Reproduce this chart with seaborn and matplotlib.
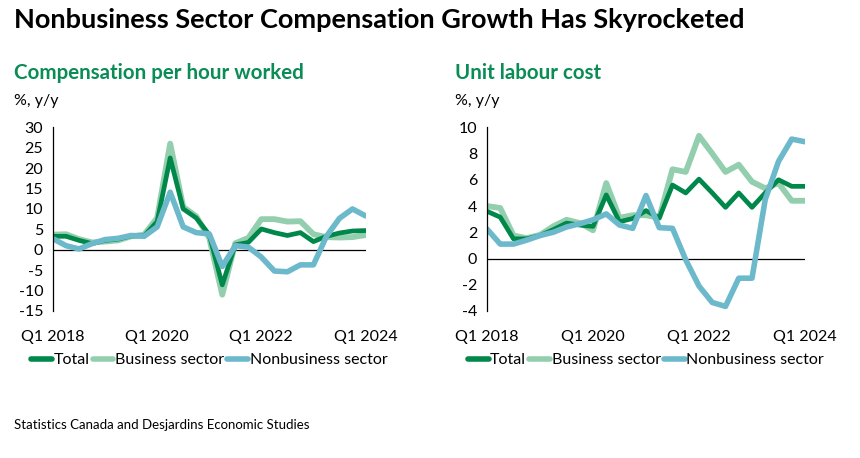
import numpy as np
import pandas as pd
import matplotlib
matplotlib.use("Agg")
import matplotlib.pyplot as plt
from matplotlib.lines import Line2D
import seaborn as sns

# Quarterly data, Q1 2018 .. Q1 2024 (y/y % change)
quarters = pd.period_range("2018Q1", "2024Q1", freq="Q")
tick_labels = ["Q1 2018", "Q1 2020", "Q1 2022", "Q1 2024"]

# Compensation per hour worked
comp_total = [3.3, 3.3, 2.3, 1.5, 2.3, 2.6, 3.4, 3.4, 6.9, 22.5, 10.0, 7.8, 3.7,
              -8.6, 1.2, 1.8, 5.1, 4.2, 3.5, 4.2, 2.0, 3.3, 4.1, 4.6, 4.7]
comp_business = [3.7, 3.8, 2.6, 1.8, 2.0, 2.3, 3.3, 3.7, 7.8, 26.0, 10.5, 8.2, 2.9,
                 -11.0, 1.6, 2.9, 7.5, 7.5, 6.9, 7.0, 3.8, 3.1, 3.0, 3.1, 3.6]
comp_nonbusiness = [2.7, 1.0, 0.2, 1.5, 2.5, 2.8, 3.5, 3.3, 5.6, 14.1, 5.6, 4.2, 3.9,
                    -4.1, 1.0, 0.65, -1.8, -5.2, -5.4, -3.7, -3.7, 3.3, 7.7, 10.0, 8.3]

# Unit labour cost
ulc_total = [3.6, 3.15, 1.5, 1.5, 1.75, 2.2, 2.7, 2.55, 2.45, 4.85, 2.8, 3.05, 3.65,
             3.1, 5.6, 5.0, 6.05, 5.0, 3.9, 5.0, 3.9, 5.0, 6.0, 5.5, 5.5]
ulc_business = [4.0, 3.85, 1.75, 1.55, 1.8, 2.45, 2.95, 2.7, 2.15, 5.75, 3.1, 3.3, 3.3,
                3.1, 6.8, 6.6, 9.35, 8.0, 6.6, 7.15, 5.85, 5.35, 5.75, 4.4, 4.4]
ulc_nonbusiness = [2.25, 1.1, 1.1, 1.4, 1.75, 2.0, 2.4, 2.65, 2.95, 3.4, 2.55, 2.3, 4.8,
                   2.35, 2.3, -0.1, -2.1, -3.35, -3.65, -1.5, -1.5, 4.5, 7.4, 9.1, 8.9]

series_names = ["Total", "Business sector", "Nonbusiness sector"]
colors = {"Total": "#00874A", "Business sector": "#93CFAE", "Nonbusiness sector": "#6BB9CB"}
widths = {"Total": 3.4, "Business sector": 4.2, "Nonbusiness sector": 4.0}
draw_order = ["Business sector", "Total", "Nonbusiness sector"]

green = "#0A8C55"
font = ["Lato", "DejaVu Sans"]

sns.set_style("white")
plt.rcParams["font.family"] = font
plt.rcParams["text.color"] = "black"
plt.rcParams["xtick.color"] = "black"
plt.rcParams["ytick.color"] = "black"

W, H = 860, 458
fig = plt.figure(figsize=(W / 100, H / 100), dpi=100)


def frame(total, business, nonbusiness):
    df = pd.DataFrame({"Total": total, "Business sector": business,
                       "Nonbusiness sector": nonbusiness})
    df["idx"] = np.arange(len(quarters))
    return df.melt(id_vars="idx", var_name="series", value_name="value")


def panel(rect, data, ylim, yticks, title, tx):
    ax = fig.add_axes([rect[0] / W, 1 - rect[3] / H, (rect[2] - rect[0]) / W,
                       (rect[3] - rect[1]) / H])
    for name in draw_order:
        sub = data[data["series"] == name]
        sns.lineplot(data=sub, x="idx", y="value", ax=ax, color=colors[name],
                     linewidth=widths[name], legend=False)
    ax.axhline(0, color="black", linewidth=0.9, zorder=1)
    ax.set_xlim(0, len(quarters) - 1)
    ax.set_ylim(*ylim)
    ax.set_yticks(yticks)
    ax.set_yticklabels([str(v) for v in yticks])
    ax.set_xticks([0, 8, 16, 24])
    ax.set_xticklabels(tick_labels)
    ax.set_xlabel("")
    ax.set_ylabel("")
    for s in ["top", "right", "bottom"]:
        ax.spines[s].set_visible(False)
    ax.spines["left"].set_color("black")
    ax.spines["left"].set_linewidth(0.9)
    ax.tick_params(axis="y", length=4, width=0.9, color="#888888", direction="out",
                   labelsize=11.5, pad=3, labelcolor="black")
    ax.tick_params(axis="x", length=0, labelsize=11.5, pad=14, labelcolor="black")
    fig.text(tx / W, 1 - 73 / H, title, color=green, fontsize=14.8,
             fontweight="bold", va="center", ha="left")
    fig.text(tx / W, 1 - 101 / H, "%, y/y", fontsize=11.5, va="center", ha="left")
    handles = [Line2D([], [], color=colors[n], linewidth=4) for n in series_names]
    ax.legend(handles, series_names, loc="center",
              bbox_to_anchor=((rect[0] + rect[2]) / 2 / W + 0.0, 1 - 360 / H),
              bbox_transform=fig.transFigure, ncol=3, frameon=False,
              fontsize=11.5, handlelength=1.3, handletextpad=0.1,
              columnspacing=0.2, borderaxespad=0)
    return ax


panel((53, 127.3, 365.5, 311), frame(comp_total, comp_business, comp_nonbusiness),
      (-15, 30), list(range(-15, 31, 5)), "Compensation per hour worked", 14)
panel((487, 127.3, 805, 311), frame(ulc_total, ulc_business, ulc_nonbusiness),
      (-4, 10), list(range(-4, 11, 2)), "Unit labour cost", 455)

fig.text(14 / W, 1 - 20 / H, "Nonbusiness Sector Compensation Growth Has Skyrocketed",
         fontsize=19.5, fontweight="bold", va="center", ha="left")
fig.text(14 / W, 1 - 425 / H, "Statistics Canada and Desjardins Economic Studies",
         fontsize=9.5, va="center", ha="left")

fig.savefig("out.png", dpi=100)
